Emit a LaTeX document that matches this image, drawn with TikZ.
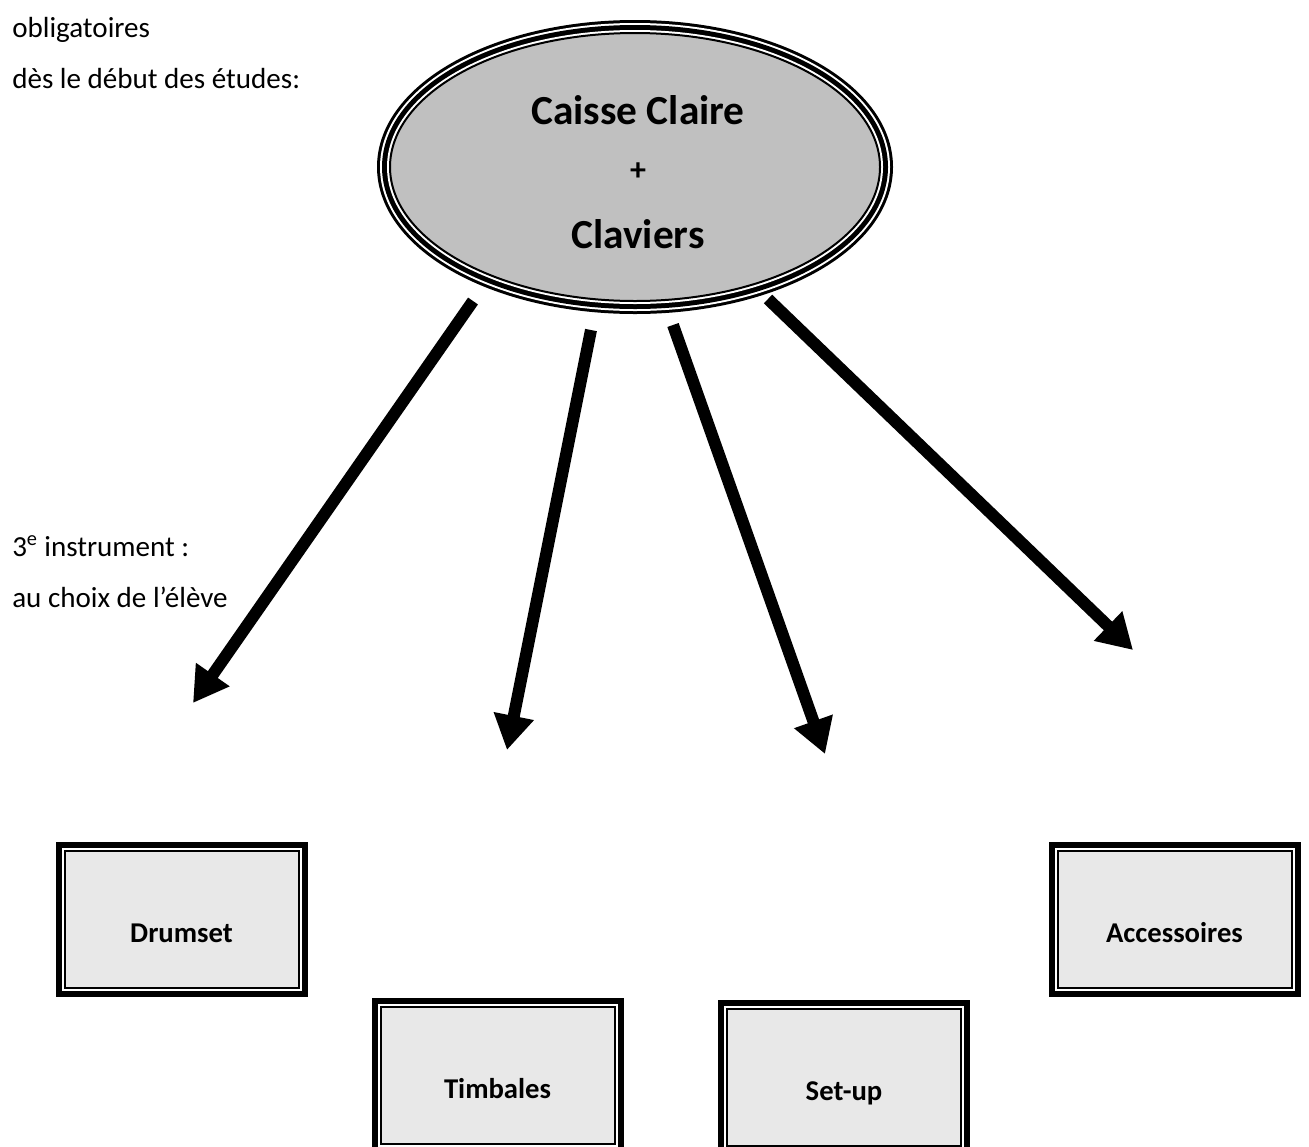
\documentclass[tikz,border=0pt]{standalone}
\usepackage{fontspec}
\setmainfont{Carlito}
\usetikzlibrary{shapes.geometric}
\usetikzlibrary{arrows.meta}

\definecolor{ellgray}{RGB}{192,192,192}
\definecolor{boxgray}{RGB}{232,232,232}

\tikzset{
  notetext/.style={anchor=base west, inner sep=0pt, font=\fontsize{21.8}{26}\selectfont},
  bigtext/.style={inner sep=0pt, font=\fontsize{31}{37}\selectfont\bfseries},
  mainell/.style={ellipse, minimum width=367.5pt, minimum height=201pt, inner sep=0pt,
    fill=ellgray, draw=black, line width=1.5pt,
    preaction={draw=black, line width=19.5pt},
    preaction={draw=white, line width=15pt},
    preaction={draw=black, line width=12pt},
    preaction={draw=white, line width=4.5pt}},
  instbox/.style={rectangle, minimum width=175.5pt, minimum height=102.75pt, inner sep=0pt,
    fill=boxgray, draw=black, line width=1.5pt,
    font=\fontsize{21.5}{26}\selectfont\bfseries, text height=33.75pt, text depth=0pt,
    preaction={draw=black, line width=13.5pt},
    preaction={draw=white, line width=4.5pt}},
  bigarrow/.style={line width=9pt, -{Triangle[length=26pt,width=29pt]}}
}

\begin{document}
\begin{tikzpicture}[x=0.75pt,y=0.75pt,yscale=-1,xscale=1]
\useasboundingbox (0,0) rectangle (1309,1146);

%Shape: Ellipse [id:cc]
\node[mainell] (cc) at (635,167) {};
% Text Node
\node[bigtext, anchor=base] (cctxt) at (638,124) {Caisse Claire};
% Text Node
\node[inner sep=0pt, font=\fontsize{24}{28}\selectfont\bfseries] (plus) at (638,172) {+};
% Text Node
\node[bigtext, anchor=base] (clavtxt) at (638,248) {Claviers};

% Text Node
\node[notetext] (oblig) at (12,37) {obligatoires};
% Text Node
\node[notetext] (debut) at (12,88) {dès le début des études:};
% Text Node
\node[notetext] (troisieme) at (12,556) {3\textsuperscript{e} instrument :};
% Text Node
\node[notetext] (choix) at (12,607) {au choix de l’élève};

%Shape: Boxes
\node[instbox] (drumset) at (181.5,919.5) {Drumset};
\node[instbox] (timbales) at (497.5,1075.5) {Timbales};
\node[instbox] (setup) at (844,1077.5) {Set-up};
\node[instbox] (accessoires) at (1174.5,919.5) {Accessoires};

%Straight Lines
\coordinate (d0) at (473,301);
\coordinate (d1) at (193,703);
\coordinate (t0) at (591,330);
\coordinate (t1) at (507,750);
\coordinate (s0) at (673,325);
\coordinate (s1) at (825,754);
\coordinate (a0) at (768,299);
\coordinate (a1) at (1133,650);
\draw[bigarrow] (d0) -- (d1);
\draw[bigarrow] (t0) -- (t1);
\draw[bigarrow] (s0) -- (s1);
\draw[bigarrow] (a0) -- (a1);

\end{tikzpicture}
\end{document}
